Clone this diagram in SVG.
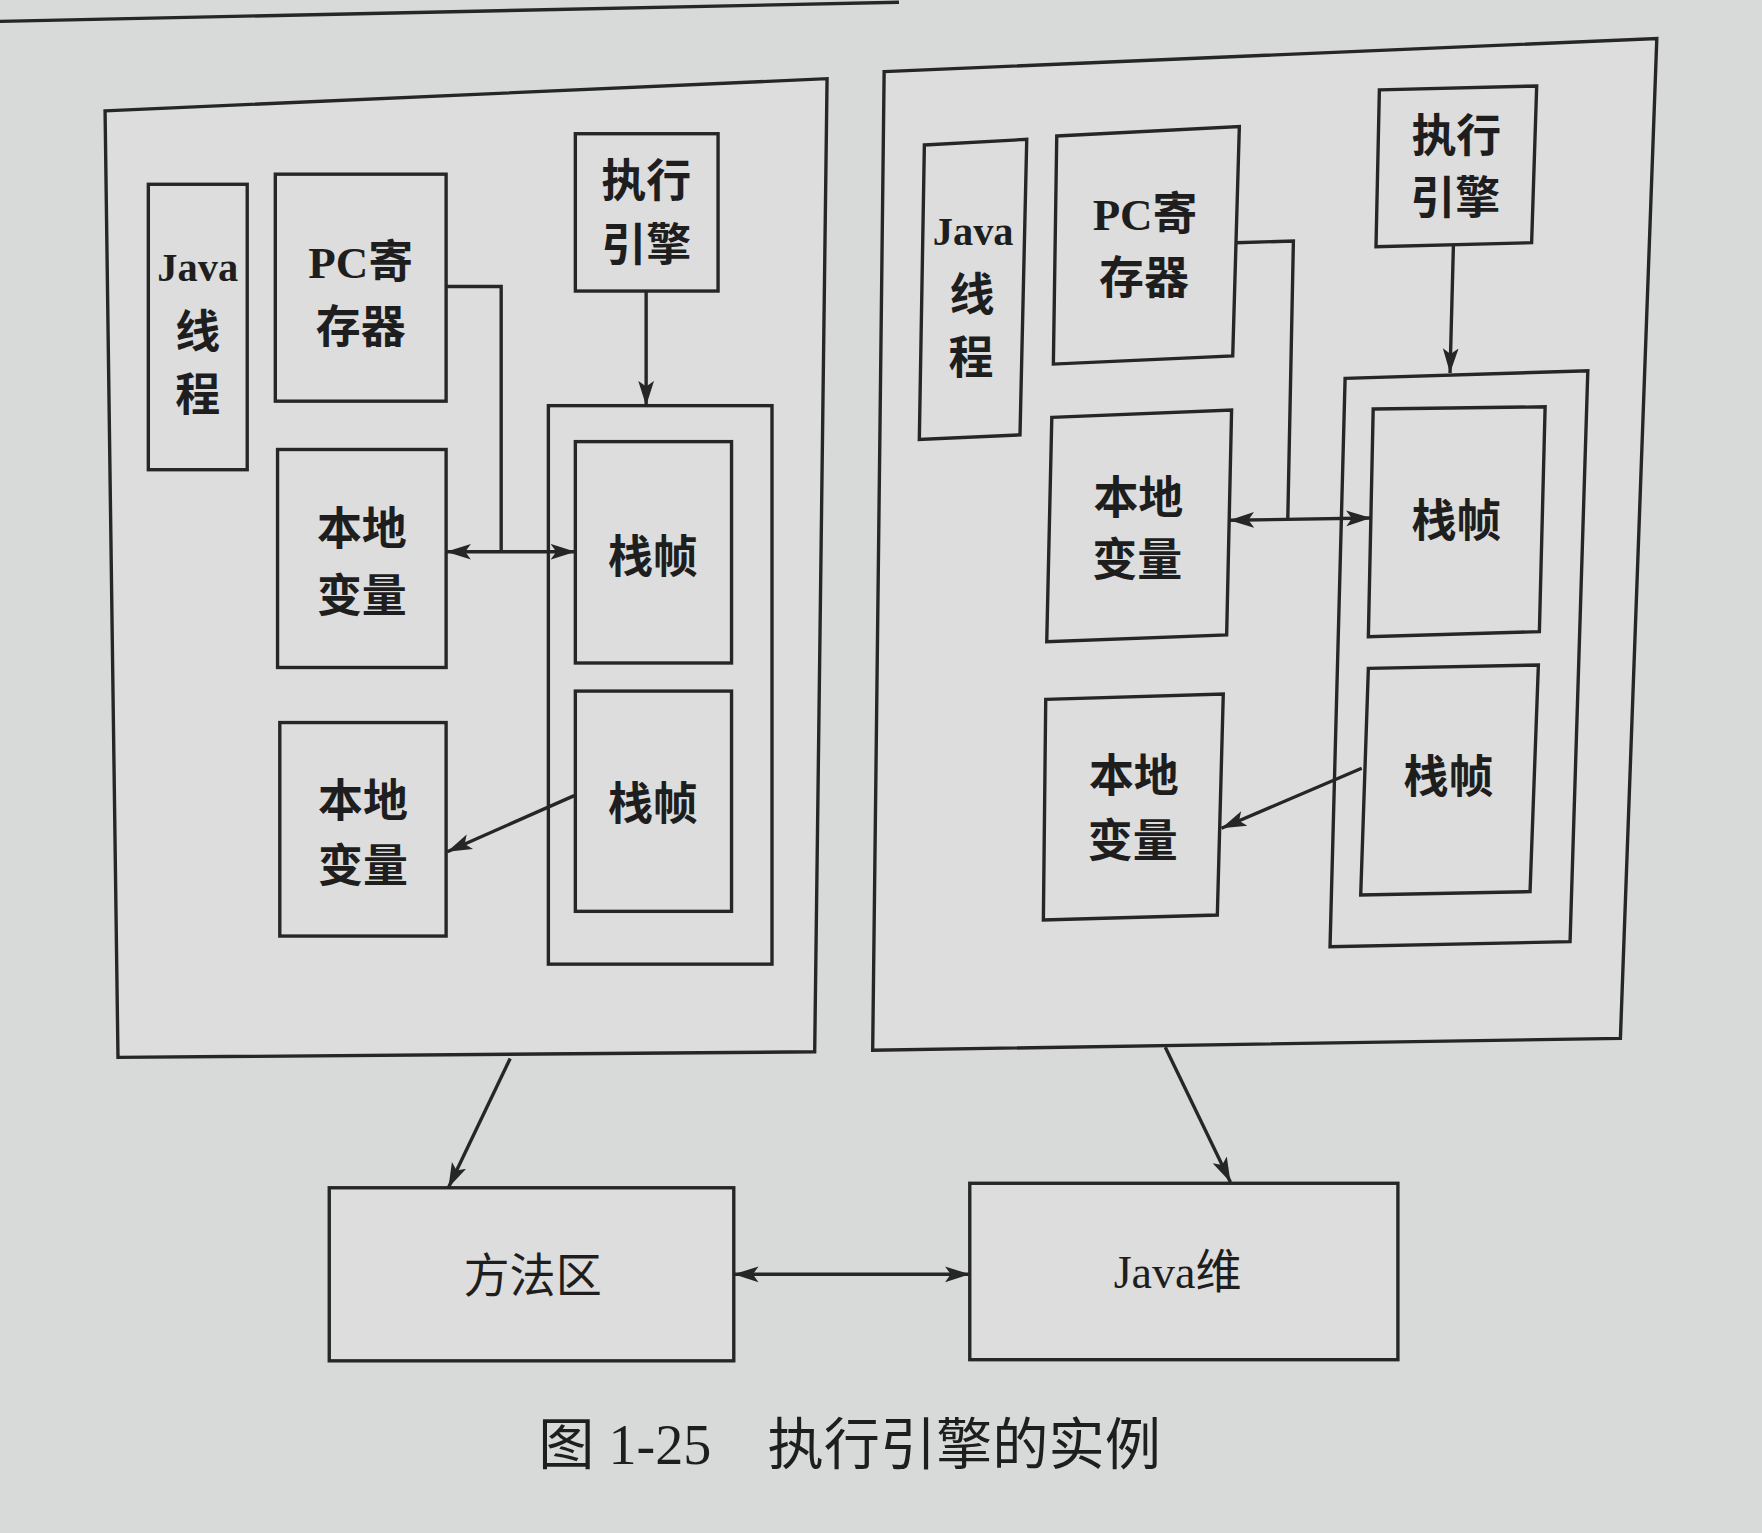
<svg xmlns="http://www.w3.org/2000/svg" width="1762" height="1533" viewBox="0 0 1762 1533">
<defs>
<style>
.bg{fill:#d8d9d9}
.box{fill:#dcdddc;stroke:#262626;stroke-width:3}
.ln{fill:none;stroke:#262626;stroke-width:3}
.t{font-family:"Liberation Serif","Noto Sans CJK SC",serif;font-weight:bold;font-size:40px;fill:#1e1e1e;text-anchor:middle}
.tj{font-family:"Liberation Serif","Noto Sans CJK SC",serif;font-weight:bold;font-size:36px;fill:#1e1e1e;text-anchor:middle}
.tn{font-family:"Liberation Serif","Noto Sans CJK SC",serif;font-size:41px;fill:#1e1e1e;text-anchor:middle}
.cap{font-family:"Liberation Serif","Noto Sans CJK SC",serif;font-size:50px;fill:#1e1e1e;text-anchor:middle}
</style>
<marker id="ah" markerUnits="userSpaceOnUse" markerWidth="24" markerHeight="16" refX="22" refY="8" orient="auto-start-reverse" viewBox="0 0 24 16">
<path d="M0,1 L22,8 L0,15 L5,8 z" fill="#262626"/>
</marker>
</defs>
<rect class="bg" x="0" y="0" width="1762" height="1533"/>
<g transform="scale(1.12372)">
<line class="ln" x1="0" y1="19" x2="800" y2="2"/>

<g id="left-panel">
<polygon class="box" points="93.5,98.7 736,70 725,936 105,941"/>
<g id="l-java-thread"><rect class="box" x="132" y="164" width="88" height="254"/>
<text class="tj" x="176" y="250">Java</text><text class="t" x="176" y="310">线</text><text class="t" x="176" y="366">程</text></g>
<g id="l-pc"><rect class="box" x="245" y="155" width="152" height="202"/>
<text class="t" x="321" y="247">PC寄</text><text class="t" x="321" y="305">存器</text></g>
<g id="l-engine"><rect class="box" x="512" y="119" width="127" height="140"/>
<text class="t" x="575" y="175">执行</text><text class="t" x="575" y="232">引擎</text></g>
<g id="l-local1"><rect class="box" x="247" y="400" width="150" height="194"/>
<text class="t" x="322" y="485">本地</text><text class="t" x="322" y="545">变量</text></g>
<g id="l-local2"><rect class="box" x="249" y="643" width="148" height="190"/>
<text class="t" x="323" y="727">本地</text><text class="t" x="323" y="785">变量</text></g>
<g id="l-stack"><rect class="box" x="488" y="361" width="199" height="497"/></g>
<g id="l-frame1"><rect class="box" x="512" y="393" width="139" height="197"/>
<text class="t" x="581" y="510">栈帧</text></g>
<g id="l-frame2"><rect class="box" x="512" y="615" width="139" height="196"/>
<text class="t" x="581" y="730">栈帧</text></g>
</g>

<g id="right-panel">
<polygon class="box" points="786.8,63.7 1474.4,34.3 1442,924 776.6,934.6"/>
<g id="r-java-thread"><polygon class="box" points="822.6,129 913.7,124 907.7,387 818.1,391"/>
<text class="tj" x="866" y="218">Java</text><text class="t" x="865" y="277">线</text><text class="t" x="864" y="333">程</text></g>
<g id="r-pc"><polygon class="box" points="940.4,121 1102.9,112.7 1097,316.8 937.4,324"/>
<text class="t" x="1019" y="205">PC寄</text><text class="t" x="1018" y="262">存器</text></g>
<g id="r-engine"><polygon class="box" points="1227.5,80 1367.5,76.5 1363,216 1224.5,219.5"/>
<text class="t" x="1296" y="135">执行</text><text class="t" x="1295" y="190">引擎</text></g>
<g id="r-local1"><polygon class="box" points="936,371.4 1096,364.9 1091.6,565 931.5,571"/>
<text class="t" x="1013" y="457">本地</text><text class="t" x="1012" y="513">变量</text></g>
<g id="r-local2"><polygon class="box" points="930.6,622.4 1088.6,617.6 1083.3,814.3 928.5,818.7"/>
<text class="t" x="1009" y="705">本地</text><text class="t" x="1008" y="763">变量</text></g>
<g id="r-stack"><polygon class="box" points="1197,336.7 1413,330 1397.2,838 1183.6,842.5"/></g>
<g id="r-frame1"><polygon class="box" points="1222,364 1375,362 1369.9,562.1 1217.7,566.6"/>
<text class="t" x="1296" y="478">栈帧</text></g>
<g id="r-frame2"><polygon class="box" points="1217.7,594.8 1369,591.8 1361.6,793.5 1210.9,796.5"/>
<text class="t" x="1289" y="706">栈帧</text></g>
</g>

<g id="method-area"><rect class="box" x="293" y="1057" width="360" height="154"/>
<text class="tn" x="474" y="1150">方法区</text></g>
<g id="java-heap"><rect class="box" x="863" y="1053" width="381" height="157"/>
<text class="tn" x="1048" y="1146">Java维</text></g>

<g id="connectors">
<polyline class="ln" points="397,255 446,255 446,491"/>
<line class="ln" x1="397" y1="491" x2="512" y2="491" marker-start="url(#ah)" marker-end="url(#ah)"/>
<line class="ln" x1="575" y1="259" x2="575" y2="361" marker-end="url(#ah)"/>
<line class="ln" x1="511" y1="708" x2="398" y2="758" marker-end="url(#ah)"/>
<polyline class="ln" points="1099.5,216 1151,214.5 1146,462"/>
<line class="ln" x1="1094" y1="463" x2="1220" y2="461" marker-start="url(#ah)" marker-end="url(#ah)"/>
<line class="ln" x1="1293.4" y1="218" x2="1290.4" y2="332" marker-end="url(#ah)"/>
<line class="ln" x1="1211.8" y1="683.7" x2="1087" y2="737" marker-end="url(#ah)"/>
<line class="ln" x1="454" y1="942" x2="399" y2="1057" marker-end="url(#ah)"/>
<line class="ln" x1="1037" y1="932" x2="1095" y2="1052" marker-end="url(#ah)"/>
<line class="ln" x1="653" y1="1134" x2="863" y2="1134" marker-start="url(#ah)" marker-end="url(#ah)"/>
</g>

<text class="cap" x="756" y="1303">图 1-25　执行引擎的实例</text>
</g>
</svg>
